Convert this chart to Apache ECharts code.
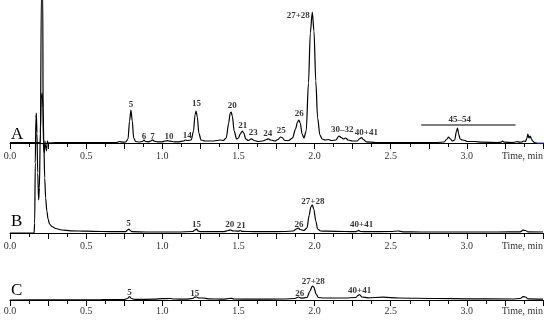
<!DOCTYPE html>
<html>
<head>
<meta charset="utf-8">
<script src="https://cdn.jsdelivr.net/npm/echarts@6/dist/echarts.min.js"></script>
<style>
  html, body { margin: 0; padding: 0; background: #fff; }
  #chart { width: 550px; height: 324px; }
</style>
</head>
<body>
<div id="chart"></div>
<script>
// time axis ticks (min)
const tickValues = [0, 0.5, 1.0, 1.5, 2.0, 2.5, 3.0, 3.5];
const tickLabels = ["0.0", "0.5", "1.0", "1.5", "2.0", "2.5", "3.0", "Time, min"];

const panelNames = ["A", "B", "C"];

// trace A: [time, signal]
const traceA = [
  [0, 0.3], [0.16, 0.3], [0.2, 0.3], [0.203, 0], [0.206, 150], [0.209, 200], [0.212, 200], [0.215, 150], [0.218, 0],
  [0.222, 0], [0.226, -10], [0.229, 2], [0.233, -2], [0.24, -8], [0.245, 2], [0.25, 0],
  [0.3, 0.3], [0.5, 0.3], [0.7, 0.5], [0.72, 1.5], [0.74, 0.8], [0.76, 1], [0.775, 4], [0.785, 22], [0.794, 33],
  [0.803, 22], [0.812, 5], [0.825, 1.5], [0.85, 1], [0.87, 1.5], [0.88, 3], [0.89, 1.5], [0.91, 1.2], [0.926, 2],
  [0.936, 3.2], [0.946, 1.8], [0.97, 1.2], [1.0, 1.2], [1.02, 2], [1.035, 2.3], [1.05, 1.8], [1.08, 1.2], [1.11, 1.2],
  [1.14, 2], [1.151, 3], [1.165, 2.5], [1.19, 3], [1.205, 12], [1.215, 28], [1.222, 32], [1.23, 26], [1.24, 10],
  [1.255, 3], [1.28, 2], [1.33, 2], [1.36, 2.5], [1.38, 3], [1.4, 2.5], [1.42, 5], [1.436, 20], [1.446, 30],
  [1.452, 31], [1.46, 27], [1.472, 12], [1.488, 4], [1.5, 5], [1.512, 9], [1.525, 12], [1.535, 10], [1.548, 4],
  [1.565, 2.5], [1.585, 4.2], [1.603, 2.5], [1.63, 1.5], [1.66, 2], [1.685, 3.5], [1.697, 4.2], [1.712, 3],
  [1.74, 2], [1.76, 3.5], [1.776, 6], [1.786, 5.5], [1.805, 2.5], [1.83, 2.5], [1.855, 5], [1.875, 14], [1.888, 21],
  [1.897, 23], [1.906, 20], [1.918, 9], [1.93, 5], [1.945, 12], [1.96, 60], [1.972, 110], [1.985, 131],
  [1.996, 112], [2.008, 62], [2.02, 25], [2.035, 8], [2.05, 4], [2.07, 3], [2.09, 3.5], [2.11, 2.5], [2.14, 3],
  [2.16, 7], [2.175, 5.5], [2.19, 4], [2.204, 5], [2.22, 3], [2.25, 2], [2.28, 2], [2.298, 4.5], [2.309, 5.5],
  [2.32, 3.5], [2.34, 1.2], [2.4, 0.5], [2.5, 0.3], [2.7, 0.3], [2.8, 0.5], [2.85, 1], [2.87, 4], [2.88, 6],
  [2.892, 4], [2.905, 2], [2.92, 3], [2.932, 12], [2.939, 15], [2.946, 9], [2.956, 4], [2.97, 3], [2.99, 2.5],
  [3.0, 1.5], [3.05, 1.5], [3.1, 0.8], [3.2, 0.5], [3.225, 0.8], [3.235, 2], [3.245, 0.8], [3.3, 0.5], [3.32, 1],
  [3.33, 1.5], [3.345, 0.8], [3.36, 1], [3.375, 2], [3.385, 1.5], [3.395, 5], [3.4, 9], [3.408, 5], [3.416, 7],
  [3.424, 4], [3.432, 2], [3.445, 0.3], [3.46, 0]
];
const traceAEnd = [[3.46, 0], [3.53, 0]];

const traceB = [
  [0, 0], [0.158, 0], [0.162, 10], [0.166, 70], [0.17, 115], [0.173, 120], [0.177, 100], [0.182, 60], [0.188, 33],
  [0.193, 45], [0.199, 100], [0.205, 135], [0.211, 140], [0.217, 125], [0.222, 90], [0.228, 55], [0.234, 35],
  [0.242, 22], [0.25, 14], [0.26, 9], [0.275, 6.5], [0.3, 4.5], [0.34, 3], [0.4, 2.2], [0.5, 1.8], [0.6, 1.5],
  [0.7, 1.3], [0.76, 1.3], [0.772, 3], [0.78, 4], [0.79, 2.5], [0.8, 1.3], [0.9, 1], [1.0, 1], [1.1, 1], [1.2, 1.5],
  [1.214, 3], [1.224, 4], [1.234, 2.2], [1.25, 1.3], [1.4, 1.3], [1.435, 2.5], [1.447, 3.2], [1.46, 2.2], [1.5, 1.8],
  [1.513, 2.5], [1.525, 1.6], [1.6, 1.4], [1.7, 1.4], [1.8, 1.5], [1.86, 2], [1.88, 4], [1.893, 5], [1.905, 3.5],
  [1.93, 2.5], [1.95, 5], [1.965, 18], [1.975, 26], [1.985, 28], [1.995, 24], [2.008, 12], [2.02, 4], [2.04, 2],
  [2.08, 1.8], [2.2, 1.5], [2.27, 1.3], [2.283, 2.2], [2.29, 2.6], [2.3, 1.5], [2.35, 1.3], [2.5, 1.5], [2.55, 2],
  [2.58, 1.2], [2.7, 1], [2.9, 1], [3.2, 1], [3.35, 1.2], [3.37, 2.8], [3.385, 2.5], [3.4, 1.2], [3.5, 1]
];

const traceC = [
  [0, 0], [0.3, 0.2], [0.6, 0.3], [0.75, 0.5], [0.772, 1.5], [0.785, 3.5], [0.797, 1.5], [0.82, 0.6], [0.95, 0.8],
  [1.0, 1.3], [1.05, 1.5], [1.08, 1], [1.15, 0.8], [1.2, 1.5], [1.213, 2.8], [1.224, 3], [1.24, 2], [1.27, 2],
  [1.3, 1.2], [1.4, 0.8], [1.44, 1.5], [1.455, 1.7], [1.47, 1], [1.6, 0.8], [1.8, 1], [1.87, 1.5], [1.895, 3],
  [1.91, 1.8], [1.95, 2.5], [1.97, 9], [1.985, 14], [1.995, 13], [2.01, 6], [2.025, 2.5], [2.06, 2], [2.2, 2],
  [2.27, 2.5], [2.285, 4.5], [2.296, 5.5], [2.31, 3], [2.35, 2.2], [2.45, 2.8], [2.55, 2], [2.8, 1.5], [3.0, 1.2],
  [3.3, 1], [3.35, 1.5], [3.37, 3.3], [3.385, 3], [3.4, 1.2], [3.5, 0.8]
];

// peak labels: [time, height, text]
const labelsA = [
  [0.794, 38, "5"], [0.880, 6.3, "6"], [0.936, 6.3, "7"], [1.044, 6.3, "10"], [1.164, 7, "14"],
  [1.224, 39, "15"], [1.459, 37.3, "20"], [1.528, 17.7, "21"], [1.597, 10.3, "23"], [1.693, 9, "24"],
  [1.781, 12.3, "25"], [1.899, 29, "26"], [1.893, 127, "27+28"], [2.182, 13, "30\u201332"],
  [2.340, 10.7, "40+41"], [2.954, 23, "45\u201354"]
];
const labelsB = [
  [0.778, 9.7, "5"], [1.224, 8.7, "15"], [1.443, 8, "20"], [1.518, 7.3, "21"], [1.897, 8.7, "26"],
  [1.989, 31.3, "27+28"], [2.309, 8.7, "40+41"]
];
const labelsC = [
  [0.785, 7.3, "5"], [1.213, 6.7, "15"], [1.903, 6.7, "26"], [1.991, 18.3, "27+28"], [2.296, 9.3, "40+41"]
];
// bracket over peaks 45-54
const bracketA = [[2.70, 18], [3.32, 18]];

const serif = "Liberation Serif, Times New Roman, serif";

const grids = [
    { left: 10, width: 533, top: 0, height: 147 },
    { left: 10, width: 533, top: 160, height: 77 },
    { left: 10, width: 533, top: 250, height: 52 },
];
const yRanges = [[-4, 143], [-4, 73], [-2, 50]];

function xAxisFor(i) {
    return {
        type: "value",
        gridIndex: i,
        min: 0,
        max: 3.5,
        interval: 0.25,
        axisLine: { lineStyle: { color: "#000", width: 1 } },
        axisTick: { length: 6, lineStyle: { color: "#000" } },
        minorTick: { show: true, splitNumber: 2, length: 4, lineStyle: { color: "#000" } },
        splitLine: { show: false },
        axisLabel: {
            margin: 4,
            fontFamily: serif,
            fontSize: 10,
            color: "#333",
            alignMaxLabel: "right",
            formatter: (v) => {
                const k = tickValues.findIndex((t) => Math.abs(t - v) < 1e-6);
                return k >= 0 ? tickLabels[k] : "";
            },
        },
    };
}

function yAxisFor(i) {
    return {
        type: "value",
        gridIndex: i,
        min: yRanges[i][0],
        max: yRanges[i][1],
        show: false,
        splitLine: { show: false },
    };
}

function traceSeries(i, data, color) {
    return {
        type: "line",
        xAxisIndex: i,
        yAxisIndex: i,
        data: data,
        symbol: "none",
        smooth: 0.3,
        smoothMonotone: "x",
        clip: false,
        silent: true,
        lineStyle: { color: color || "#000", width: 1.2 },
    };
}

function labelSeries(i, data) {
    return {
        type: "scatter",
        xAxisIndex: i,
        yAxisIndex: i,
        data: data,
        symbolSize: 0,
        silent: true,
        clip: false,
        encode: { x: 0, y: 1 },
        label: {
            show: true,
            position: "inside",
            formatter: (p) => p.value[2],
            fontFamily: serif,
            fontWeight: "bold",
            fontSize: 9,
            color: "#000",
        },
    };
}

const chart = echarts.init(document.getElementById("chart"), null, { renderer: "canvas" });
chart.setOption({
    animation: false,
    backgroundColor: "#fff",
    grid: grids.map((g) => Object.assign({ containLabel: false, outerBoundsMode: "none" }, g)),
    xAxis: [0, 1, 2].map(xAxisFor),
    yAxis: [0, 1, 2].map(yAxisFor),
    graphic: panelNames.map((name, i) => ({
        type: "text",
        left: 11,
        top: [126, 213, 282][i],
        style: { text: name, font: "17px " + serif, fill: "#000" },
    })),
    series: [
        traceSeries(0, traceA),
        {
            type: "line",
            xAxisIndex: 0,
            yAxisIndex: 0,
            data: traceAEnd,
            symbol: "none",
            clip: false,
            silent: true,
            lineStyle: { color: "#3344cc", width: 1 },
        },
        {
            type: "line",
            xAxisIndex: 0,
            yAxisIndex: 0,
            data: bracketA,
            symbol: "none",
            silent: true,
            lineStyle: { color: "#000", width: 1.2 },
        },
        traceSeries(1, traceB),
        traceSeries(2, traceC),
        labelSeries(0, labelsA),
        labelSeries(1, labelsB),
        labelSeries(2, labelsC),
    ],
});
</script>
</body>
</html>
